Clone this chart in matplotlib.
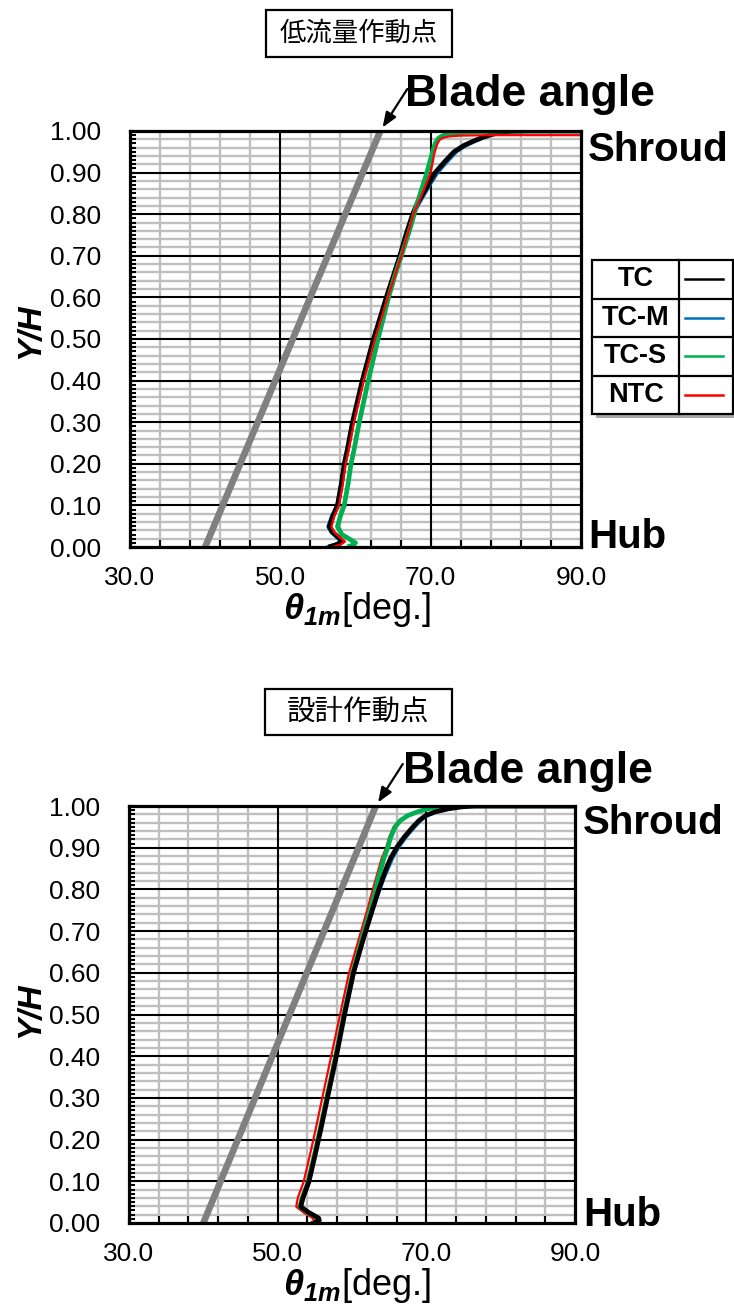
import matplotlib
matplotlib.use("Agg")
import matplotlib.pyplot as plt
from matplotlib.patches import Rectangle
from matplotlib.lines import Line2D
import numpy as np

plt.rcParams['font.family'] = ['Liberation Sans', 'DejaVu Sans']
plt.rcParams['mathtext.fontset'] = 'custom'
plt.rcParams['mathtext.rm'] = 'Liberation Sans'
plt.rcParams['mathtext.it'] = 'Liberation Sans:italic'
plt.rcParams['mathtext.bf'] = 'Liberation Sans:bold'
plt.rcParams['mathtext.bfit'] = 'Liberation Sans:bold:italic'

# ---------------- data ----------------
series_names = ['TC', 'TC-M', 'TC-S', 'NTC']
series_colors = ['#000000', '#0070C0', '#00B050', '#FF0000']

x_ticks = [30.0, 50.0, 70.0, 90.0]
x_tick_labels = ['30.0', '50.0', '70.0', '90.0']
y_ticks = [0.0, 0.1, 0.2, 0.3, 0.4, 0.5, 0.6, 0.7, 0.8, 0.9, 1.0]
y_tick_labels = ['0.00', '0.10', '0.20', '0.30', '0.40', '0.50',
                 '0.60', '0.70', '0.80', '0.90', '1.00']

# low-flow operating point
low_title = '低流量作動点'
low_blade_theta = [40.0, 63.3]
low_blade_y = [0.0, 1.0]

low_tc_y = [0.000, 0.006, 0.013, 0.022, 0.035, 0.049, 0.075, 0.100, 0.150, 0.200,
            0.233, 0.300, 0.400, 0.500, 0.600, 0.650, 0.700, 0.750, 0.800, 0.825,
            0.850, 0.875, 0.900, 0.925, 0.950, 0.965, 0.975, 0.984, 0.991, 0.996,
            0.999, 1.000, 1.000]
low_tc_theta = [56.4, 57.5, 58.3, 57.8, 57.0, 56.5, 57.0, 57.6, 58.1, 58.5,
                58.9, 59.6, 60.9, 62.4, 64.1, 65.0, 65.9, 66.7, 67.6, 68.2,
                69.0, 69.8, 70.6, 71.8, 73.1, 74.4, 75.6, 76.8, 78.0, 79.2,
                80.5, 83.0, 90.0]

low_tcm_y = low_tc_y
low_tcm_theta = [56.1, 57.2, 58.0, 57.5, 56.7, 56.3, 56.8, 57.5, 58.0, 58.5,
                 58.9, 59.6, 60.9, 62.4, 64.1, 65.0, 65.9, 66.8, 67.8, 68.5,
                 69.3, 70.1, 71.0, 72.2, 73.5, 74.8, 76.0, 77.2, 78.3, 79.5,
                 80.8, 83.0, 90.0]

low_tcs_y = [0.000, 0.005, 0.010, 0.018, 0.030, 0.049, 0.075, 0.100, 0.150, 0.200,
             0.233, 0.300, 0.400, 0.500, 0.600, 0.650, 0.700, 0.750, 0.780, 0.820,
             0.860, 0.900, 0.947, 0.970, 0.982, 0.988, 0.992, 0.995, 0.997, 0.999,
             1.000, 1.000]
low_tcs_theta = [58.9, 59.7, 60.0, 59.3, 58.2, 57.6, 58.0, 58.5, 59.0, 59.4,
                 59.8, 60.5, 61.7, 63.0, 64.4, 65.2, 66.1, 67.0, 67.5, 68.1,
                 68.8, 69.5, 70.2, 70.6, 71.0, 71.5, 72.2, 73.3, 74.9, 77.5,
                 80.0, 90.0]

low_ntc_y = [0.000, 0.006, 0.013, 0.022, 0.035, 0.049, 0.075, 0.100, 0.150, 0.200,
             0.233, 0.300, 0.400, 0.500, 0.600, 0.650, 0.700, 0.750, 0.800, 0.850,
             0.900, 0.947, 0.970, 0.979, 0.984, 0.987, 0.989, 0.990, 0.990]
low_ntc_theta = [57.0, 58.0, 58.6, 58.0, 57.2, 56.8, 57.2, 57.8, 58.3, 58.7,
                 59.1, 59.8, 61.1, 62.6, 64.3, 65.2, 66.1, 66.9, 67.7, 68.9,
                 70.0, 70.5, 70.9, 71.2, 71.7, 72.5, 74.0, 78.0, 90.0]

# design operating point
des_title = '設計作動点'
des_blade_theta = [40.0, 63.2]
des_blade_y = [0.0, 1.0]

des_y = [0.000, 0.006, 0.012, 0.025, 0.039, 0.060, 0.099, 0.160, 0.224, 0.300,
         0.400, 0.500, 0.600, 0.680, 0.760, 0.800, 0.825, 0.850, 0.875, 0.900,
         0.925, 0.950, 0.965, 0.977, 0.986, 0.993, 0.998, 1.000, 1.000]
des_tc_theta = [54.9, 55.6, 55.5, 54.2, 53.1, 53.4, 54.2, 55.0, 55.8, 56.7,
                57.9, 59.0, 60.2, 61.5, 62.9, 63.6, 64.1, 64.6, 65.2, 66.0,
                67.0, 68.2, 69.0, 69.9, 71.2, 72.9, 74.8, 76.5, 90.0]
des_tcm_theta = [55.1, 55.7, 55.6, 54.3, 53.2, 53.5, 54.3, 55.0, 55.8, 56.7,
                 57.9, 59.0, 60.3, 61.6, 63.0, 63.8, 64.3, 64.9, 65.5, 66.3,
                 67.3, 68.5, 69.3, 70.2, 71.5, 73.2, 75.0, 76.7, 90.0]
des_tcs_theta = [54.8, 55.5, 55.4, 54.1, 53.0, 53.3, 54.1, 54.9, 55.7, 56.6,
                 57.8, 58.9, 60.1, 61.3, 62.6, 63.2, 63.5, 63.9, 64.3, 64.8,
                 65.2, 65.8, 66.5, 67.5, 68.8, 70.2, 71.5, 72.5, 90.0]
des_ntc_theta = [54.4, 54.9, 54.7, 53.5, 52.5, 52.7, 53.5, 54.3, 55.1, 56.0,
                 57.2, 58.4, 59.6, 60.9, 62.2, 62.8, 63.2, 63.6, 64.0, 64.6,
                 65.0, 65.6, 66.4, 67.4, 68.7, 70.1, 71.5, 72.5, 90.0]

# ---------------- figure ----------------
W, H = 734, 1307
fig = plt.figure(figsize=(W / 100, H / 100), dpi=100)


def fx(px):
    return px / W


def fy(py):
    return 1 - py / H


def make_axes(left, top, right, bottom):
    return fig.add_axes([fx(left), fy(bottom), fx(right) - fx(left), fy(top) - fy(bottom)])


def style_axes(ax):
    ax.set_xlim(30, 90)
    ax.set_ylim(0, 1)
    # light grid
    for xv in np.arange(34, 90, 4):
        if xv % 20 != 10:
            ax.axvline(xv, color='#bfbfbf', lw=1.7, zorder=0.5)
    for yv in np.arange(0.02, 1.0, 0.02):
        if round(yv * 50) % 5 != 0:
            ax.axhline(yv, color='#bfbfbf', lw=1.7, zorder=0.5)
    # dark grid
    for xv in (50, 70):
        ax.axvline(xv, color='black', lw=1.5, zorder=0.6)
    for yv in y_ticks[1:-1]:
        ax.axhline(yv, color='black', lw=1.5, zorder=0.6)

    ax.set_xticks(x_ticks)
    ax.set_xticklabels(x_tick_labels, fontsize=19)
    ax.set_xticks(np.arange(30, 91, 4), minor=True)
    ax.set_yticks(y_ticks)
    ax.set_yticklabels(y_tick_labels, fontsize=19)
    ax.set_yticks(np.arange(0, 1.001, 0.01), minor=True)
    ax.tick_params(axis='x', which='both', direction='in', length=5, width=1.5,
                   top=False, pad=14)
    ax.tick_params(axis='y', which='both', direction='in', length=4, width=1.5,
                   right=False, pad=21)
    for s in ax.spines.values():
        s.set_linewidth(2.3)
        s.set_zorder(5)


def draw_panel(ax, blade_t, blade_y, curves):
    style_axes(ax)
    ax.plot(blade_t, blade_y, color='#808080', lw=4.8, solid_capstyle='butt',
            zorder=2, clip_on=False)
    for (t, y), color, lw, z in curves:
        ax.plot(t, y, color=color, lw=lw, zorder=z, solid_joinstyle='round',
                solid_capstyle='butt')
    ax.annotate('', xy=(blade_t[-1], blade_y[-1]), xycoords='data',
                xytext=(27, 42), textcoords='offset pixels',
                arrowprops=dict(arrowstyle='-|>,head_length=0.9,head_width=0.35',
                                color='black', lw=1.6, shrinkA=0, shrinkB=3),
                annotation_clip=False)


# upper panel
ax1 = make_axes(130, 131, 581, 547)
draw_panel(ax1, low_blade_theta, low_blade_y, [
    ((low_tcm_theta, low_tcm_y), series_colors[1], 2.0, 3),
    ((low_tc_theta, low_tc_y), series_colors[0], 3.4, 4),
    ((low_ntc_theta, low_ntc_y), series_colors[3], 1.6, 4.2),
    ((low_tcs_theta, low_tcs_y), series_colors[2], 3.4, 4.1),
])

# lower panel
ax2 = make_axes(129, 806, 575, 1223)
draw_panel(ax2, des_blade_theta, des_blade_y, [
    ((des_tcs_theta, des_y), series_colors[2], 3.4, 3),
    ((des_ntc_theta, des_y), series_colors[3], 1.6, 2.9),
    ((des_tcm_theta, des_y), series_colors[1], 2.0, 3.5),
    ((des_tc_theta, des_y), series_colors[0], 3.4, 4),
])

# axis titles
xlabel = r'$\mathbfit{\theta}_{\mathbfit{1m}}$[deg.]'
for ax, ycen_lab, yb_xl in ((ax1, 331, 619), (ax2, 1010, 1295)):
    fig.text(fx(31), fy(ycen_lab), 'Y/H', rotation=90, fontsize=24,
             fontweight='bold', fontstyle='italic', ha='center', va='center')
    fig.text(fx(357), fy(yb_xl), xlabel, fontsize=26, ha='center', va='baseline')

# panel annotations
for yb_blade, x_blade, yb_sh, yb_hub, x_side in ((106, 405, 161, 548, 588),
                                                 (783, 403, 834, 1226, 583)):
    fig.text(fx(x_blade), fy(yb_blade), 'Blade angle', fontsize=32,
             fontweight='bold', ha='left', va='baseline')
    fig.text(fx(x_side), fy(yb_sh), 'Shroud', fontsize=29,
             fontweight='bold', ha='left', va='baseline')
    fig.text(fx(x_side), fy(yb_hub), 'Hub', fontsize=29,
             fontweight='bold', ha='left', va='baseline')

# boxed operating-point titles
for title, size, (l, t, r, b) in ((low_title, 19, (266, 10, 452, 57)),
                                  (des_title, 20.5, (265, 689, 452, 735))):
    fig.patches.append(Rectangle((fx(l), fy(b)), fx(r) - fx(l), fy(t) - fy(b),
                                 transform=fig.transFigure, fc='white',
                                 ec='black', lw=1.6))
    fig.text(fx((l + r) / 2), fy((t + b) / 2), title, fontsize=size,
             family=['Noto Sans CJK JP', 'DejaVu Sans'],
             ha='center', va='center')

# table-style legend
lg_l, lg_t, lg_r, lg_b, lg_mid = 592, 260, 733, 414, 679
fig.patches.append(Rectangle((fx(lg_l + 4), fy(lg_b + 4)), fx(lg_r) - fx(lg_l),
                             fy(lg_t) - fy(lg_b), transform=fig.transFigure,
                             fc='#a6a6a6', ec='none', zorder=1))
fig.patches.append(Rectangle((fx(lg_l), fy(lg_b)), fx(lg_r) - fx(lg_l),
                             fy(lg_t) - fy(lg_b), transform=fig.transFigure,
                             fc='white', ec='black', lw=1.6, zorder=2))
row_h = (lg_b - lg_t) / len(series_names)
fig.add_artist(Line2D([fx(lg_mid)] * 2, [fy(lg_t), fy(lg_b)], color='black', lw=1.6,
                      zorder=3))
for i, (name, color) in enumerate(zip(series_names, series_colors)):
    top = lg_t + i * row_h
    if i > 0:
        fig.add_artist(Line2D([fx(lg_l), fx(lg_r)], [fy(top), fy(top)],
                              color='black', lw=1.6, zorder=3))
    yc = top + row_h / 2
    fig.text(fx((lg_l + lg_mid) / 2), fy(yc), name, fontsize=19.5, fontweight='bold',
             ha='center', va='center', zorder=4)
    fig.add_artist(Line2D([fx(685), fx(723)], [fy(yc), fy(yc)], color=color,
                          lw=1.8, zorder=4))

fig.savefig('out.png', dpi=100)
